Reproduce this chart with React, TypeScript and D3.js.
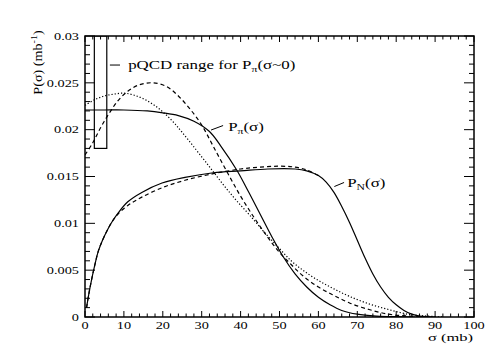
import * as d3 from "d3";
import {useEffect, useRef} from "react";

// P_pi(sigma), solid
const piSolidSig = [0, 5, 10, 16, 20, 24, 28, 32, 35, 39, 42, 45, 48, 51, 54, 57, 60, 63, 66, 70, 75, 80, 85];
const piSolidVal = [0.0221, 0.0221, 0.0221, 0.022, 0.0218, 0.0215, 0.0209, 0.0198, 0.0182, 0.0157, 0.0134, 0.011, 0.0086, 0.0064, 0.0046, 0.0032, 0.0021, 0.0013, 0.0007, 0.0003, 0.0001, 0.00003, 0];

// P_pi(sigma), dashed
const piDashSig = [0, 2, 4, 6, 8.5, 11, 14, 17.5, 21, 24, 27, 30, 33, 36.5, 40, 43.5, 47, 50, 53, 56, 60, 64, 68, 73, 78, 83, 88];
const piDashVal = [0.0173, 0.0186, 0.0202, 0.0216, 0.0231, 0.0241, 0.0248, 0.025, 0.0246, 0.0236, 0.0222, 0.0205, 0.0182, 0.0155, 0.0129, 0.0106, 0.0085, 0.0069, 0.0056, 0.0044, 0.0032, 0.0023, 0.0015, 0.0008, 0.0003, 0.0001, 0];

// P_pi(sigma), dotted
const piDotSig = [0, 2.5, 5, 7.5, 10, 12.5, 15, 17.5, 20, 22.5, 25, 30, 33, 36, 39, 42.5, 46, 50, 53, 56, 60, 64, 68, 73, 78, 83, 88, 92];
const piDotVal = [0.0226, 0.0232, 0.0236, 0.0238, 0.0239, 0.0237, 0.0233, 0.0227, 0.0219, 0.0209, 0.0197, 0.0171, 0.0155, 0.0139, 0.0124, 0.0108, 0.0091, 0.0073, 0.006, 0.005, 0.0039, 0.003, 0.0022, 0.0014, 0.0008, 0.0003, 0.0001, 0];

// P_N(sigma), solid
const nSolidSig = [0.4, 1, 1.7, 2.5, 3.4, 4.5, 5.9, 7, 8.5, 11, 14.6, 19.8, 25.7, 33, 40, 47, 54, 57, 60, 62, 64, 66, 68, 70, 72, 74, 76, 78, 80, 82, 84, 86, 88, 90];
const nSolidVal = [0.001, 0.0025, 0.004, 0.0055, 0.007, 0.0082, 0.0094, 0.0102, 0.0111, 0.0123, 0.0133, 0.0143, 0.0149, 0.0154, 0.0156, 0.0158, 0.0158, 0.0156, 0.0151, 0.0144, 0.0133, 0.0118, 0.0101, 0.0082, 0.0063, 0.0046, 0.0032, 0.0021, 0.0013, 0.0007, 0.0003, 0.0001, 0.00003, 0];

// P_N(sigma), dashed
const nDashSig = [0.4, 1, 1.7, 2.5, 3.4, 4.5, 5.9, 7, 8.5, 11, 14.6, 19.8, 25.7, 33, 40, 45, 50, 54, 57, 60];
const nDashVal = [0.001, 0.0025, 0.004, 0.0055, 0.007, 0.0082, 0.0094, 0.0102, 0.011, 0.0119, 0.0128, 0.0138, 0.0146, 0.0153, 0.0158, 0.016, 0.0161, 0.016, 0.0157, 0.0151];

const xMajor = [0, 10, 20, 30, 40, 50, 60, 70, 80, 90, 100];
const yMajor = [0, 0.005, 0.01, 0.015, 0.02, 0.025, 0.03];
const yLabels = ["0", "0.005", "0.01", "0.015", "0.02", "0.025", "0.03"];

// pQCD box (sigma range, P range)
const boxSig = [2.4, 5.6];
const boxP = [0.018, 0.03];

const W = 498, H = 354;
const margin = {left: 85, right: 24, top: 36, bottom: 37};
const serif = "'Liberation Serif', 'Times New Roman', serif";
const SX = 1.3;

const App = () => {
    const ref = useRef(null);

    useEffect(() => {
        const svg = d3.select(ref.current);
        svg.selectAll("*").remove();

        const x = d3.scaleLinear().domain([0, 100]).range([margin.left, W - margin.right]);
        const y = d3.scaleLinear().domain([0, 0.03]).range([H - margin.bottom, margin.top]);
        const [x0, x1] = x.range();
        const [y0, y1] = y.range();

        const xMinor = d3.range(0, 101, 2).filter(v => v % 10 !== 0);
        const yMinor = d3.range(0, 31).map(v => v / 1000).filter((v, i) => i % 5 !== 0);

        const ticks = svg.append("g").attr("stroke", "#000").attr("stroke-width", 1);
        // bottom/top ticks
        [[xMajor, 6], [xMinor, 3.5]].forEach(([vals, len]: any) => {
            vals.forEach((v: number) => {
                ticks.append("line").attr("x1", x(v)).attr("x2", x(v)).attr("y1", y0).attr("y2", y0 - len);
                ticks.append("line").attr("x1", x(v)).attr("x2", x(v)).attr("y1", y1).attr("y2", y1 + len);
            });
        });
        [[yMajor, 10], [yMinor, 5]].forEach(([vals, len]: any) => {
            vals.forEach((v: number) => {
                ticks.append("line").attr("x1", x0).attr("x2", x0 + len).attr("y1", y(v)).attr("y2", y(v));
                ticks.append("line").attr("x1", x1).attr("x2", x1 - len).attr("y1", y(v)).attr("y2", y(v));
            });
        });

        // tick labels
        const lab = svg.append("g").attr("font-family", serif).attr("font-size", 11).attr("fill", "#000");
        xMajor.forEach(v => {
            lab.append("text")
                .attr("transform", `translate(${x(v)},${y0 + 11.5}) scale(${SX},1)`)
                .attr("text-anchor", "middle")
                .text(v);
        });
        yMajor.forEach((v, i) => {
            lab.append("text")
                .attr("transform", `translate(${x0 - 6},${y(v) + 3.8}) scale(${SX},1)`)
                .attr("text-anchor", "end")
                .text(yLabels[i]);
        });

        // curves
        const clip = svg.append("clipPath").attr("id", "plotclip");
        clip.append("rect").attr("x", x0).attr("y", y1).attr("width", x1 - x0).attr("height", y0 - y1);
        const plot = svg.append("g").attr("clip-path", "url(#plotclip)");

        const line = d3.line<[number, number]>()
            .x(d => x(d[0]))
            .y(d => y(d[1]))
            .curve(d3.curveCatmullRom.alpha(0.5));

        const series = [
            {s: nDashSig, v: nDashVal, dash: "4,3"},
            {s: nSolidSig, v: nSolidVal, dash: null},
            {s: piDotSig, v: piDotVal, dash: "1.2,2"},
            {s: piDashSig, v: piDashVal, dash: "4,3"},
            {s: piSolidSig, v: piSolidVal, dash: null},
        ];
        series.forEach(c => {
            plot.append("path")
                .attr("d", line(c.s.map((s, i) => [s, c.v[i]] as [number, number])))
                .attr("fill", "none")
                .attr("stroke", "#000")
                .attr("stroke-width", 1.2)
                .attr("stroke-dasharray", c.dash);
        });

        // pQCD box
        plot.append("rect")
            .attr("x", x(boxSig[0]))
            .attr("y", y(boxP[1]))
            .attr("width", x(boxSig[1]) - x(boxSig[0]))
            .attr("height", y(boxP[0]) - y(boxP[1]))
            .attr("fill", "none")
            .attr("stroke", "#000")
            .attr("stroke-width", 1.2);

        // frame
        svg.append("rect")
            .attr("x", x0).attr("y", y1)
            .attr("width", x1 - x0).attr("height", y0 - y1)
            .attr("fill", "none").attr("stroke", "#000").attr("stroke-width", 1.5);

        // annotations
        const ann = svg.append("g").attr("font-family", serif).attr("font-size", 13).attr("fill", "#000");
        const seg = (a: number[], b: number[]) =>
            ann.append("line")
                .attr("x1", x(a[0])).attr("y1", y(a[1]))
                .attr("x2", x(b[0])).attr("y2", y(b[1]))
                .attr("stroke", "#000").attr("stroke-width", 1);

        seg([6.4, 0.0269], [9.0, 0.0269]);
        const t1 = ann.append("text").attr("transform", `translate(${x(11.1)},${y(0.02653)}) scale(${SX},1)`);
        t1.append("tspan").text("pQCD range for P");
        t1.append("tspan").attr("font-size", 9).attr("dy", 3).text("π");
        t1.append("tspan").attr("dy", -3).text("(σ~0)");

        seg([32.4, 0.01996], [35.5, 0.02044]);
        const t2 = ann.append("text").attr("transform", `translate(${x(36.8)},${y(0.01986)}) scale(${SX},1)`);
        t2.append("tspan").text("P");
        t2.append("tspan").attr("font-size", 9).attr("dy", 3).text("π");
        t2.append("tspan").attr("dy", -3).text("(σ)");

        seg([64.1, 0.01393], [66.6, 0.01436]);
        const t3 = ann.append("text").attr("transform", `translate(${x(67.4)},${y(0.01393)}) scale(${SX},1)`);
        t3.append("tspan").text("P");
        t3.append("tspan").attr("font-size", 9).attr("dy", 3).text("N");
        t3.append("tspan").attr("dy", -3).text("(σ)");

        // axis titles
        ann.append("text")
            .attr("font-size", 11)
            .attr("transform", `translate(${x1 - 1},${y0 + 24}) scale(1.5,1)`)
            .attr("text-anchor", "end")
            .text("σ (mb)");

        const yt = ann.append("text")
            .attr("font-size", 12)
            .attr("transform", `translate(41.5,62.5) rotate(-90) scale(1.18,1)`)
            .attr("text-anchor", "middle");
        yt.append("tspan").text("P(σ) (mb");
        yt.append("tspan").attr("font-size", 8.5).attr("dy", -5).text("-1");
        yt.append("tspan").attr("dy", 5).text(")");
    }, []);

    return (
        <svg ref={ref} width={W} height={H}
             style={{position: "absolute", left: 0, top: 0, background: "#fff"}}></svg>
    );
};

export default App;
